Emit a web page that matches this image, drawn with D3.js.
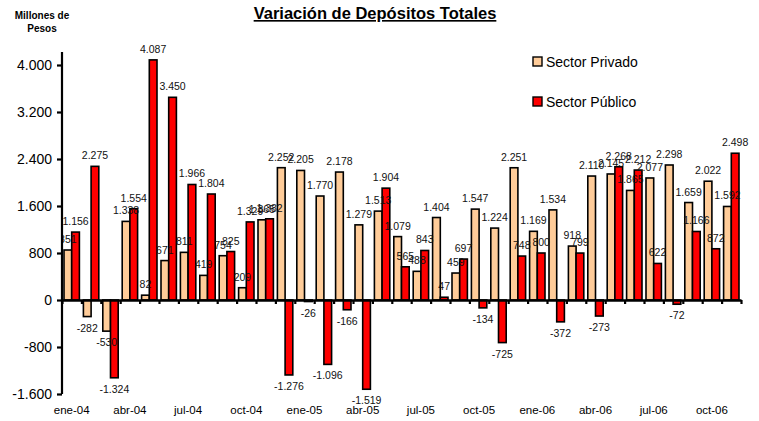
<!DOCTYPE html>
<html>
<head>
<meta charset="utf-8">
<script src="https://cdn.jsdelivr.net/npm/d3@7"></script>
<style>
  body { margin: 0; background: #fff; }
  text { font-family: Arial, "Liberation Sans", sans-serif; }
</style>
</head>
<body>
<div class="chart"></div>
<script>
// months ene-04 .. nov-06
var months = ["ene-04","feb-04","mar-04","abr-04","may-04","jun-04","jul-04","ago-04","sep-04","oct-04","nov-04","dic-04",
              "ene-05","feb-05","mar-05","abr-05","may-05","jun-05","jul-05","ago-05","sep-05","oct-05","nov-05","dic-05",
              "ene-06","feb-06","mar-06","abr-06","may-06","jun-06","jul-06","ago-06","sep-06","oct-06","nov-06"];

var privado = [851, -282, -530, 1338, 82, 671, 811, 419, 754, 209, 1365, 2252,
               2205, 1770, 2178, 1279, 1513, 1079, 488, 1404, 459, 1547, 1224, 2251,
               1169, 1534, 918, 2110, 2145, 1865, 2077, 2298, 1659, 2022, 1592];

var publico = [1156, 2275, -1324, 1554, 4087, 3450, 1966, 1804, 825, 1329, 1382, -1276,
               -26, -1096, -166, -1519, 1904, 565, 843, 47, 697, -134, -725, 748,
               800, -372, 799, -273, 2268, 2212, 622, -72, 1166, 872, 2498];

var yTicks = [-1600, -800, 0, 800, 1600, 2400, 3200, 4000];
var seriesNames = ["Sector Privado", "Sector Público"];
var colors = ["#FFCC99", "#FF0000"];

var w = 759, h = 421;

var es = d3.formatLocale({decimal: ",", thousands: ".", grouping: [3], currency: ["$", ""], minus: "-"});
var fmt = es.format(",d");

var svg = d3.select(".chart").append("svg")
    .attr("width", w)
    .attr("height", h);

var x = d3.scaleBand().domain(months).range([62, 741]).paddingInner(0).paddingOuter(0);
var xSub = d3.scaleBand().domain([0, 1]).range([0, x.bandwidth()]).paddingInner(0).paddingOuter(0.26);
var xEdge = d3.scaleLinear().domain([0, months.length]).range([62, 741]);

var y = d3.scaleLinear().domain([-1600, 4000]).range([394, 65]);

svg.append("clipPath").attr("id", "plotclip")
    .append("rect").attr("x", 63).attr("y", 0).attr("width", w - 63).attr("height", h);

// title
svg.append("text")
    .attr("x", 375)
    .attr("y", 19)
    .attr("text-anchor", "middle")
    .style("font-size", "16.5px")
    .style("font-weight", "bold")
    .style("text-decoration", "underline")
    .text("Variación de Depósitos Totales");

svg.append("text").attr("x", 42).attr("y", 19).attr("text-anchor", "middle")
    .style("font-size", "10px").style("font-weight", "bold").text("Millones de");
svg.append("text").attr("x", 42).attr("y", 32).attr("text-anchor", "middle")
    .style("font-size", "10px").style("font-weight", "bold").text("Pesos");

var all = [privado, publico];
var barLayer = svg.append("g");
var labelLayer = svg.append("g").attr("clip-path", "url(#plotclip)");

all.forEach(function(vals, s) {
    barLayer.append("g").selectAll("rect")
        .data(vals)
        .enter()
        .append("rect")
        .attr("x", (d, i) => x(months[i]) + xSub(s))
        .attr("y", d => y(Math.max(0, d)))
        .attr("width", xSub.bandwidth())
        .attr("height", d => Math.abs(y(d) - y(0)))
        .attr("fill", colors[s])
        .attr("stroke", "#000")
        .attr("stroke-width", 1.6);

    labelLayer.append("g").selectAll("text")
        .data(vals)
        .enter()
        .append("text")
        .attr("x", (d, i) => x(months[i]) + xSub(s) + xSub.bandwidth() / 2)
        .attr("y", d => d >= 0 ? y(d) - 7 : y(d) + 15)
        .attr("text-anchor", "middle")
        .style("font-size", "10.5px")
        .style("fill", "#111")
        .text(d => fmt(d));
});

// y axis
var axisY = d3.axisLeft(y)
    .tickValues(yTicks)
    .tickSize(5)
    .tickSizeOuter(0)
    .tickPadding(5)
    .tickFormat(fmt);

var gy = svg.append("g")
    .attr("transform", "translate(62,0)")
    .call(axisY);
gy.select(".domain").remove();
gy.append("line").attr("x1", 0).attr("x2", 0).attr("y1", 52).attr("y2", y(-1600))
    .attr("stroke", "#000").attr("stroke-width", 2.2);
gy.selectAll(".tick line").attr("stroke", "#000").attr("stroke-width", 2.2);
gy.selectAll(".tick text").style("font-size", "14px").style("fill", "#000")
    .style("font-family", "Arial, 'Liberation Sans', sans-serif");

// x axis (zero line)
var axisX = d3.axisBottom(xEdge)
    .tickValues(d3.range(0, months.length + 1))
    .tickSize(4)
    .tickSizeOuter(0)
    .tickFormat("");

var gx = svg.append("g")
    .attr("transform", "translate(0," + y(0) + ")")
    .call(axisX);
gx.select(".domain").attr("stroke", "#000").attr("stroke-width", 2.4);
gx.selectAll(".tick line").attr("stroke", "#000").attr("stroke-width", 2.2);

svg.append("g").selectAll("text")
    .data(months.filter((m, i) => i % 3 === 0))
    .enter()
    .append("text")
    .attr("x", d => x(d) + x.bandwidth() / 2)
    .attr("y", 414)
    .attr("text-anchor", "middle")
    .style("font-size", "11.5px")
    .text(d => d);

// legend
var legend = svg.append("g");
seriesNames.forEach(function(name, i) {
    legend.append("rect")
        .attr("x", 533)
        .attr("y", 57 + i * 40)
        .attr("width", 9)
        .attr("height", 9)
        .attr("fill", colors[i])
        .attr("stroke", "#000")
        .attr("stroke-width", 1.4);
    legend.append("text")
        .attr("x", 546)
        .attr("y", 67 + i * 40)
        .style("font-size", "14px")
        .text(name);
});
</script>
</body>
</html>
